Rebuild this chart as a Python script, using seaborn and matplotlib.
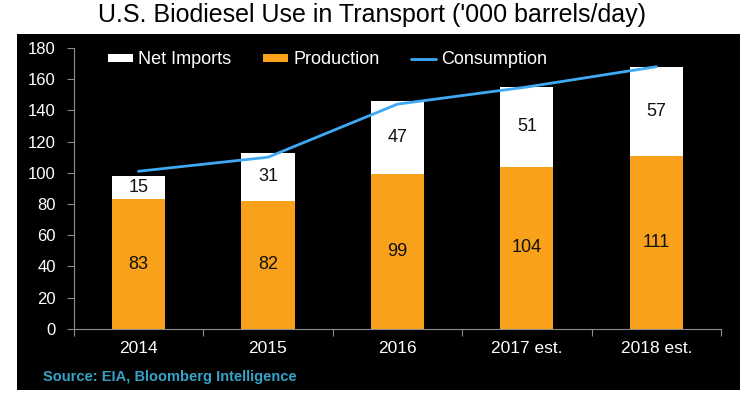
import numpy as np
import matplotlib
matplotlib.use("Agg")
import matplotlib.pyplot as plt
import seaborn as sns
from matplotlib.patches import Patch, Rectangle
from matplotlib.lines import Line2D

years = ["2014", "2015", "2016", "2017 est.", "2018 est."]
production = [83, 82, 99, 104, 111]
net_imports = [15, 31, 47, 51, 57]
consumption = [101, 110, 144, 155, 168]

orange = "#F9A11B"
blue = "#3FA9F5"
teal = "#35A3C8"
gray = "#8C8C8C"

sns.set_style("white")
plt.rcParams["font.family"] = ["Liberation Sans", "DejaVu Sans"]

totals = [p + n for p, n in zip(production, net_imports)]

fig = plt.figure(figsize=(7.45, 3.93), dpi=100)
fig.patch.set_facecolor("white")
bg = Rectangle((17 / 745, 3 / 393), 723 / 745, 356 / 393,
               transform=fig.transFigure, facecolor="black",
               edgecolor="none", zorder=-10)
fig.patches.append(bg)

ax = fig.add_axes([0.099, 0.163, 0.869, 0.715])
ax.set_facecolor("black")
ax.set_zorder(1)

sns.barplot(x=years, y=totals, color="white", width=0.41, saturation=1,
            edgecolor="none", ax=ax, zorder=2)
sns.barplot(x=years, y=production, color=orange, width=0.41, saturation=1,
            edgecolor="none", ax=ax, zorder=3)
ax.plot(np.arange(len(years)), consumption, color=blue, lw=2, zorder=4)

for i in range(len(years)):
    ax.text(i, production[i] / 2, str(production[i]), ha="center", va="center",
            fontsize=13, color="#111111", zorder=5)
    ax.text(i, production[i] + net_imports[i] / 2, str(net_imports[i]), ha="center",
            va="center", fontsize=13, color="#111111", zorder=5)

ax.set_ylim(0, 180)
ax.set_xlim(-0.5, len(years) - 0.5)
ax.set_yticks(range(0, 181, 20))
ax.set_xlabel("")
ax.set_ylabel("")
for s in ["top", "right"]:
    ax.spines[s].set_visible(False)
for s in ["left", "bottom"]:
    ax.spines[s].set_color(gray)
    ax.spines[s].set_linewidth(0.8)
ax.tick_params(axis="y", colors="white", labelsize=12, length=5, width=0.8,
               color=gray, left=True, pad=8)
ax.tick_params(axis="x", which="major", colors="white", labelsize=12.5, length=0, pad=9)
ax.set_xticks(np.arange(-0.5, len(years), 1), minor=True)
ax.tick_params(axis="x", which="minor", length=5, width=0.8, color=gray, bottom=True)

handles = [Patch(facecolor="white", edgecolor="none"),
           Patch(facecolor=orange, edgecolor="none"),
           Line2D([0], [0], color=blue, lw=2)]
leg = ax.legend(handles, ["Net Imports", "Production", "Consumption"], ncol=3,
                frameon=False, loc="center left", bbox_to_anchor=(0.0525, 0.958),
                borderaxespad=0, borderpad=0,
                fontsize=13, handlelength=1.4, handleheight=0.33,
                columnspacing=1.75, handletextpad=0.28)
for t in leg.get_texts():
    t.set_color("white")

fig.text(0.5, 0.962, "U.S. Biodiesel Use in Transport ('000 barrels/day)",
         ha="center", va="center", fontsize=18, color="black")
fig.text(43 / 745, 1 - 377 / 393, "Source: EIA, Bloomberg Intelligence",
         ha="left", va="center", fontsize=10.5, color=teal, fontweight="bold")

fig.savefig("out.png", dpi=100, facecolor=fig.get_facecolor())
